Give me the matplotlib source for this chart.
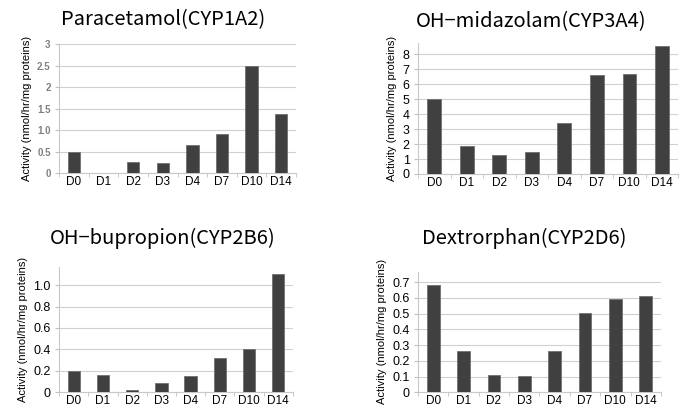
import matplotlib.pyplot as plt
import numpy as np

plt.rcParams['font.family'] = ['Liberation Sans', 'DejaVu Sans']

days = ['D0', 'D1', 'D2', 'D3', 'D4', 'D7', 'D10', 'D14']

paracetamol = [0.5, 0.0, 0.26, 0.24, 0.66, 0.9, 2.5, 1.38]
midazolam = [5.0, 1.9, 1.27, 1.49, 3.4, 6.64, 6.71, 8.55]
bupropion = [0.2, 0.165, 0.024, 0.089, 0.15, 0.32, 0.407, 1.1]
dextrorphan = [0.685, 0.263, 0.11, 0.102, 0.26, 0.503, 0.595, 0.614]

titles = ['Paracetamol(CYP1A2)', 'OH\u2212midazolam(CYP3A4)',
          'OH\u2212bupropion(CYP2B6)', 'Dextrorphan(CYP2D6)']

para_ticks = [0, 0.5, 1.0, 1.5, 2, 2.5, 3]
para_labels = ['0', '0.5', '1.0', '1.5', '2', '2.5', '3']
mida_ticks = [0, 1, 2, 3, 4, 5, 6, 7, 8]
bupr_ticks = [0, 0.2, 0.4, 0.6, 0.8, 1.0]
bupr_labels = ['0', '0.2', '0.4', '0.6', '0.8', '1.0']
dext_ticks = [0, 0.1, 0.2, 0.3, 0.4, 0.5, 0.6, 0.7]
dext_labels = ['0', '0.1', '0.2', '0.3', '0.4', '0.5', '0.6', '0.7']

ylabel = 'Activity (nmol/hr/mg proteins)'

fig = plt.figure(figsize=(6.88, 4.09), dpi=100)

panels = [
    # rect, values, ticks, labels, ylim, tick colour, title xy
    ([0.0858, 0.577, 0.3445, 0.3154], paracetamol, para_ticks, para_labels, 3.0, '#808080', (163, 20)),
    ([0.6076, 0.5746, 0.378, 0.320], midazolam, mida_ticks, [str(t) for t in mida_ticks], 8.75, 'black', (531, 22)),
    ([0.0858, 0.041, 0.340, 0.305], bupropion, bupr_ticks, bupr_labels, 1.165, 'black', (163, 238)),
    ([0.6076, 0.041, 0.353, 0.295], dextrorphan, dext_ticks, dext_labels, 0.768, 'black', (524, 238)),
]

x = np.arange(len(days))
for (rect, vals, ticks, labels, ytop, tcol, (tx, ty)), title in zip(panels, titles):
    ax = fig.add_axes(rect)
    ax.bar(x, vals, width=0.42, color='#404040', edgecolor='#707070', linewidth=0.6, zorder=3)
    ax.set_xlim(-0.5, len(days) - 0.5)
    ax.set_ylim(0, ytop)
    ax.set_yticks(ticks)
    small = tcol != 'black'
    ax.set_yticklabels(labels, color=tcol, fontsize=7 if small else 9,
                       fontweight='bold' if small else 'normal')
    ax.set_xticks(x)
    ax.set_xticklabels(days, fontsize=8.5)
    ax.set_xticks(np.arange(-0.5, len(days)), minor=True)
    ax.tick_params(axis='x', which='major', length=0, pad=2)
    ax.tick_params(axis='x', which='minor', length=3, color='#c0c0c0', direction='out')
    ax.tick_params(axis='y', length=3, color='#c0c0c0', pad=3)
    ax.grid(axis='y', color='#d0d0d0', linewidth=0.8, zorder=0)
    for s in ['top', 'right']:
        ax.spines[s].set_visible(False)
    for s in ['left', 'bottom']:
        ax.spines[s].set_color('#c8c8c8')
        ax.spines[s].set_linewidth(0.8)
    ax.set_ylabel(ylabel, fontsize=8, labelpad=4)
    fig.text(tx / 688, 1 - ty / 409, title, ha='center', va='center', fontsize=14.5,
             family=['Noto Sans CJK JP', 'DejaVu Sans'])

fig.savefig('out.png', dpi=100)
